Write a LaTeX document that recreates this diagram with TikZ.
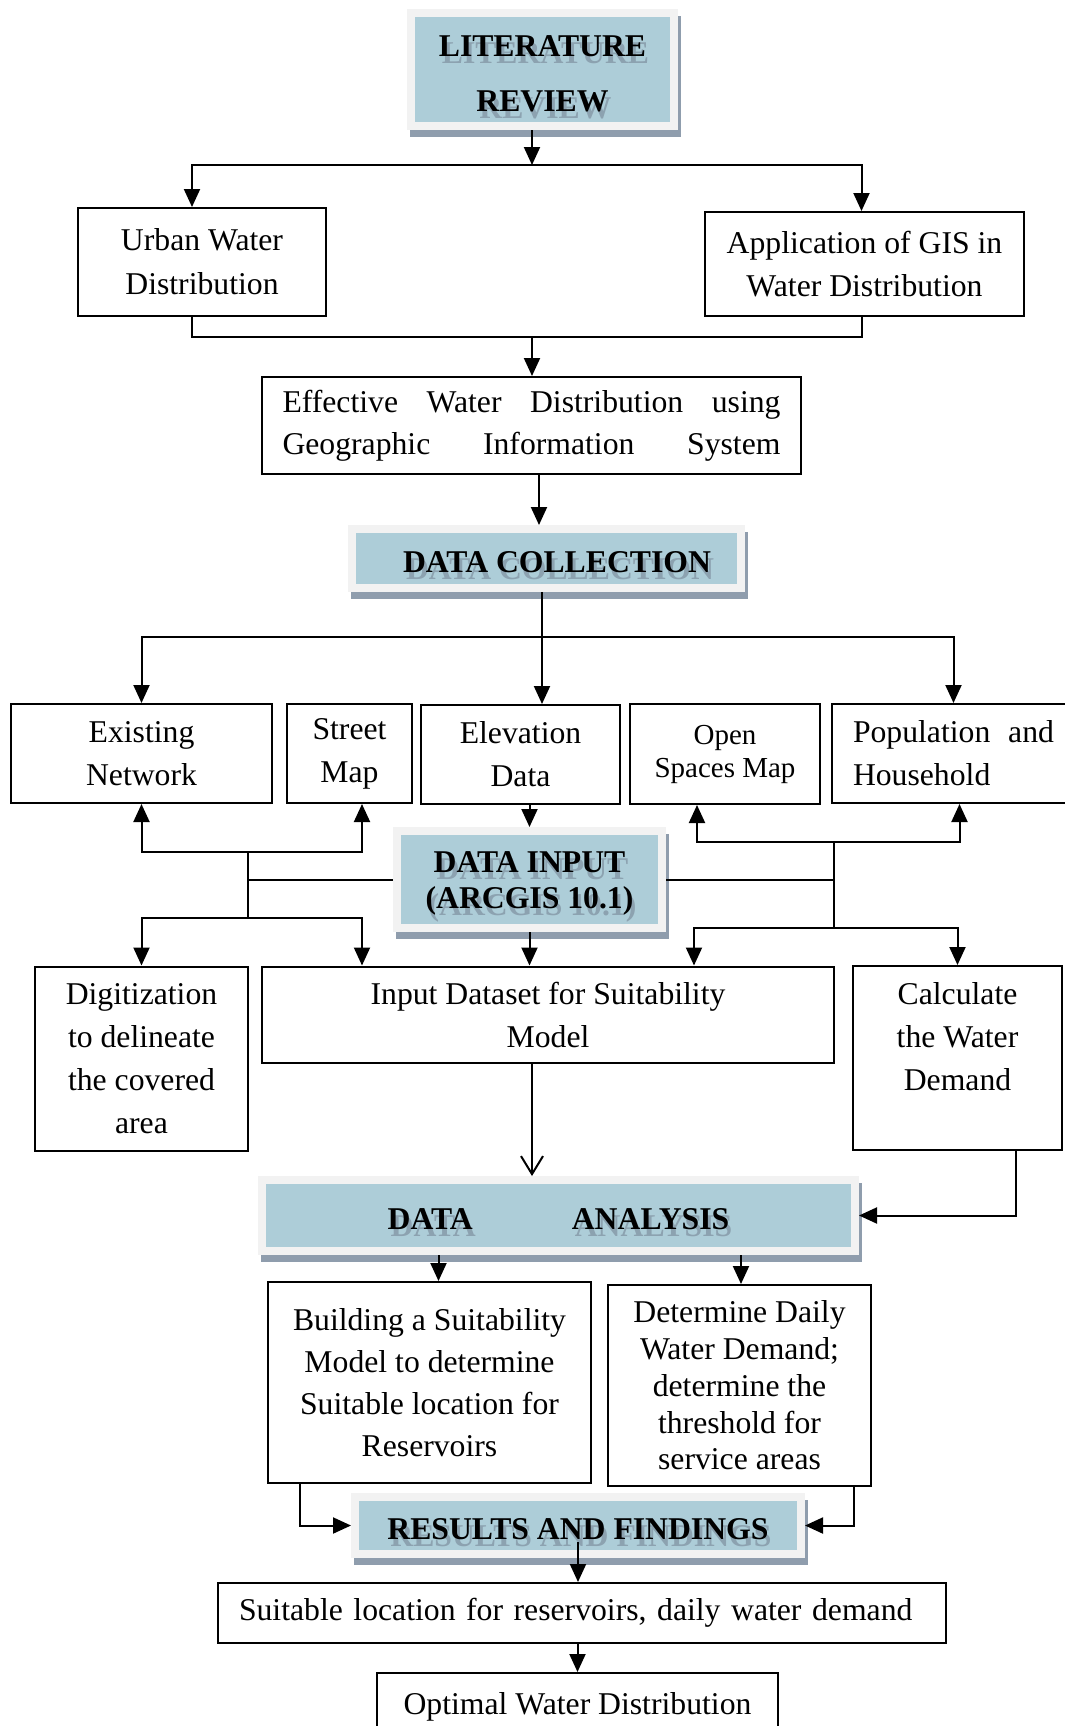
\documentclass[tikz,border=0pt]{standalone}
\usepackage{fontspec}
\setmainfont{Liberation Serif}
\usepackage{xcolor}
\usepackage{tikz}
\usetikzlibrary{shapes,arrows,positioning,shadows,calc,arrows.meta}
\definecolor{headblue}{RGB}{173,205,216}
\definecolor{framegray}{RGB}{242,242,242}
\definecolor{shadowgray}{RGB}{143,157,173}
\definecolor{txtshadow}{RGB}{140,162,176}
\newcommand{\shadowtext}[1]{\raisebox{-2pt}[\height][\depth]{\rlap{\smash{\hspace*{1.5pt}\raisebox{-3.5pt}{\color{txtshadow}#1}}}#1}}
\tikzstyle{arrow} = [-{Triangle[length=9pt,width=8pt]}, line width=1pt]
\tikzstyle{openarrow} = [-{Straight Barb[length=9pt,width=11pt]}, line width=1pt]
\tikzstyle{connector} = [line width=1pt]
\tikzstyle{flowbox} = [rectangle, draw, line width=1pt, align=center, inner sep=3pt, font=\fontsize{15.85}{21.5}\selectfont]
\tikzstyle{headbox} = [rectangle, draw=framegray, fill=headblue, line width=4pt, align=center, font=\bfseries\fontsize{15.85}{18}\selectfont, drop shadow={shadow xshift=1.5pt, shadow yshift=-3.5pt, fill=shadowgray, draw=shadowgray, line width=4pt, opacity=1}]

\begin{document}
\begin{tikzpicture}[x=0.5pt, y=-0.5pt]
    \path[use as bounding box, fill=white] (0,0) rectangle (1065,1726);

    % Phases
    \node[headbox, minimum width=131.5pt, minimum height=56.5pt, font=\bfseries\fontsize{15.85}{27.5}\selectfont] (lit) at (542.5,69.5) {\shadowtext{LITERATURE}\\\shadowtext{REVIEW}};
    \node[headbox, minimum width=194.5pt, minimum height=29.5pt] (dc) at (546.5,558.5) {\hspace*{10.5pt}\shadowtext{DATA COLLECTION}};
    \node[headbox, minimum width=132.5pt, minimum height=48.5pt] (din) at (529.5,879.5) {\shadowtext{DATA INPUT}\\\shadowtext{(ARCGIS 10.1)}};
    \node[headbox, minimum width=296.5pt, minimum height=35.5pt] (da) at (558.5,1215.5) {\shadowtext{DATA}\hspace{49.5pt}\shadowtext{ANALYSIS}};
    \node[headbox, minimum width=223pt, minimum height=28.5pt] (res) at (578,1525.5) {\shadowtext{RESULTS AND FINDINGS}};

    % Steps
    \node[flowbox, minimum width=124pt, minimum height=54pt, font=\fontsize{15.85}{22}\selectfont] (urban) at (202,262) {Urban Water\\Distribution};
    \node[flowbox, minimum width=159.5pt, minimum height=52pt] (app) at (864.5,264) {Application of GIS in\\Water Distribution};
    \node[flowbox, minimum width=269.5pt, minimum height=48.5pt, text width=249pt, align=left, font=\fontsize{15.85}{21}\selectfont] (eff) at (531.5,425.5) {Effective\hfill Water\hfill Distribution\hfill using\\Geographic\hfill Information\hfill System};
    \node[flowbox, minimum width=130.5pt, minimum height=49.5pt] (exn) at (141.5,753.5) {Existing\\Network};
    \node[flowbox, minimum width=62.5pt, minimum height=49.5pt] (street) at (349.5,753.5) {Street\\Map};
    \node[flowbox, minimum width=99.5pt, minimum height=49.5pt] (elev) at (520.5,754.5) {Elevation\\Data};
    \node[flowbox, minimum width=95pt, minimum height=50pt, font=\fontsize{14.5}{16.5}\selectfont] (open) at (725,754) {Open\\Spaces Map};
    \node[flowbox, minimum width=121.5pt, minimum height=49.5pt, text width=100.5pt, align=left] (pop) at (953.5,753.5) {Population\hfill and\\Household};
    \node[flowbox, minimum width=106.5pt, minimum height=92pt] (digi) at (141.5,1058.5) {Digitization\\to delineate\\the covered\\area};
    \node[flowbox, minimum width=286pt, minimum height=48pt] (inds) at (548,1014.5) {Input Dataset for Suitability\\Model};
    \node[flowbox, minimum width=104.5pt, minimum height=92pt] (calc) at (957.5,1058) {Calculate\\the Water\\Demand\\\mbox{}};
    \node[flowbox, minimum width=161.5pt, minimum height=100.5pt, font=\fontsize{15.85}{21}\selectfont] (build) at (429.5,1382.5) {Building a Suitability\\Model to determine\\Suitable location for\\Reservoirs};
    \node[flowbox, minimum width=131.5pt, minimum height=100.5pt, font=\fontsize{15.85}{18.4}\selectfont] (det) at (739.5,1385.5) {Determine Daily\\Water Demand;\\determine the\\threshold for\\service areas};
    \node[flowbox, minimum width=364pt, minimum height=30pt, text width=343pt, align=left] (suit) at (582,1613) {Suitable location for reservoirs, daily water demand};
    \node[flowbox, minimum width=200.5pt, minimum height=33.5pt] (opt) at (577.5,1706.5) {Optimal Water Distribution};

    % Junctions
    \coordinate (s1) at (532,165);
    \coordinate (j1) at (532,337);
    \coordinate (j2) at (542,637);
    \coordinate (la) at (248,852);
    \coordinate (lb) at (248,918);
    \coordinate (ra) at (834,842);
    \coordinate (rb) at (834,928);

    % Links
    \draw[arrow] (lit.south -| s1) -- (s1);
    \draw[arrow] (s1) -| ([xshift=-5pt]urban.north);
    \draw[arrow] (s1) -| ([xshift=-1.5pt]app.north);
    \draw[connector] ([xshift=-5pt]urban.south) |- (j1) -| ([xshift=-1.5pt]app.south);
    \draw[arrow] (j1) -- (eff.north -| j1);
    \draw[arrow] ([xshift=3.75pt]eff.south) -- ([xshift=-3.75pt]dc.north);
    \draw[connector] (dc.south -| j2) -- (j2);
    \draw[arrow] (j2) -- (elev.north -| j2);
    \draw[arrow] (j2) -| (exn.north);
    \draw[arrow] (j2) -| (pop.north);
    \draw[arrow] (elev.south -| din) -- (din.north);

    \draw[connector] (la) -- (lb);
    \draw[connector] (din.west) -- (din.west -| la);
    \draw[arrow] (la) -| (exn.south);
    \draw[arrow] (la) -| ([xshift=6.25pt]street.south);
    \draw[arrow] (lb) -| (digi.north);
    \draw[arrow] (lb) -| ([xshift=-93pt]inds.north);

    \draw[connector] (ra) -- (rb);
    \draw[connector] (din.east) -- (din.east -| ra);
    \draw[arrow] (ra) -| ([xshift=-14pt]open.south);
    \draw[arrow] (ra) -| ([xshift=3pt]pop.south);
    \draw[arrow] (rb) -| ([xshift=73pt]inds.north);
    \draw[arrow] (rb) -| (calc.north);

    \draw[arrow] (din.south) -- (din.south |- inds.north);
    \draw[openarrow] ([xshift=-8pt]inds.south) -- ([xshift=-8pt]inds.south |- da.north);
    \draw[arrow] ([xshift=29pt]calc.south) |- (da.east);
    \draw[arrow] ([xshift=-60pt]da.south) -- ([xshift=-60pt]da.south |- build.north);
    \draw[arrow] ([xshift=91.25pt]da.south) -- ([xshift=91.25pt]da.south |- det.north);
    \draw[arrow] ([xshift=-65pt]build.south) |- (res.west);
    \draw[arrow] ([xshift=57pt]det.south) |- (res.east);
    \draw[arrow] ([yshift=8pt]res.south) -- (res.south |- suit.north);
    \draw[arrow] (opt.north |- suit.south) -- (opt.north);
\end{tikzpicture}
\end{document}
